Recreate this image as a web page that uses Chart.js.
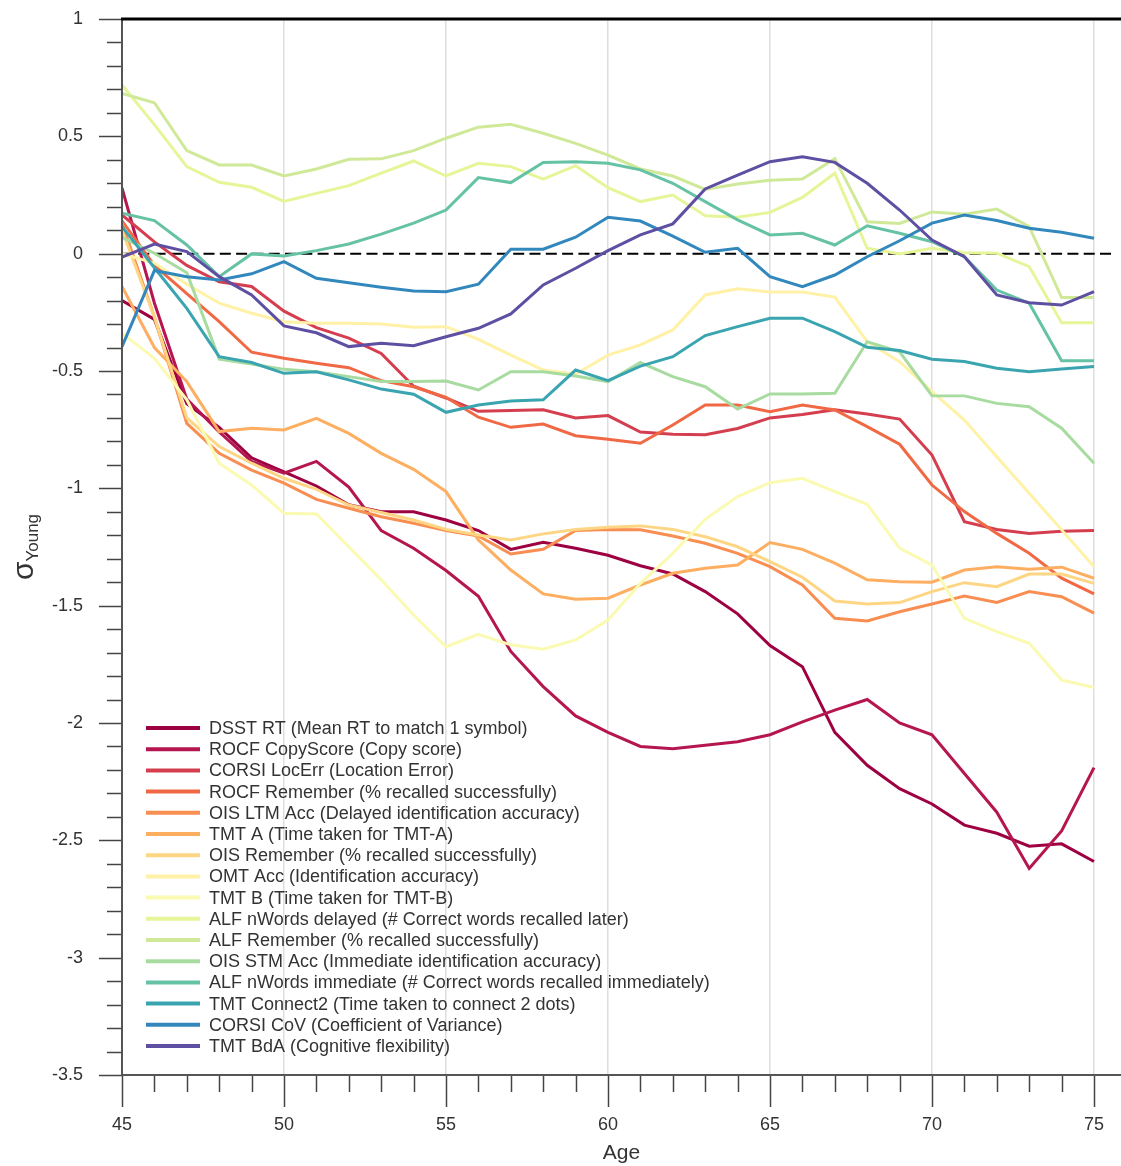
<!DOCTYPE html>
<html lang="en">
<head>
    <meta charset="UTF-8">
    <title>Cognitive scores vs age</title>
    <script src="https://cdn.jsdelivr.net/npm/chart.js"></script>
    <style>
        body { margin: 0; background: #fff; }
        .wrap { width: 1121px; height: 1166px; }
    </style>
</head>
<body>
    <div class="wrap"><canvas id="ageChart" width="1121" height="1166"></canvas></div>

    <script>
        // ages on the x axis
        const ages = [45, 46, 47, 48, 49, 50, 51, 52, 53, 54, 55, 56, 57, 58, 59, 60,
                      61, 62, 63, 64, 65, 66, 67, 68, 69, 70, 71, 72, 73, 74, 75];

        const names = [
            'DSST RT (Mean RT to match 1 symbol)',
            'ROCF CopyScore (Copy score)',
            'CORSI LocErr (Location Error)',
            'ROCF Remember (% recalled successfully)',
            'OIS LTM Acc (Delayed identification accuracy)',
            'TMT A (Time taken for TMT-A)',
            'OIS Remember (% recalled successfully)',
            'OMT Acc (Identification accuracy)',
            'TMT B (Time taken for TMT-B)',
            'ALF nWords delayed (# Correct words recalled later)',
            'ALF Remember (% recalled successfully)',
            'OIS STM Acc (Immediate identification accuracy)',
            'ALF nWords immediate (# Correct words recalled immediately)',
            'TMT Connect2 (Time taken to connect 2 dots)',
            'CORSI CoV (Coefficient of Variance)',
            'TMT BdA (Cognitive flexibility)'
        ];

        const colors = ['#9e0142', '#b5164f', '#d53e4f', '#f06944', '#f98e52', '#fdae61',
                        '#fed683', '#fff1a6', '#fafab3', '#e6f598', '#cfe998', '#a8dba0',
                        '#66c2a5', '#3aa5b0', '#3288bd', '#5e4fa2'];

        // sigma (young) per age, one array per test
        const dsstRT = [-0.20, -0.28, -0.64, -0.74, -0.87, -0.93, -0.99, -1.07, -1.10, -1.10, -1.135,
                        -1.18, -1.26, -1.23, -1.255, -1.285, -1.33, -1.365, -1.44, -1.535, -1.67,
                        -1.76, -2.04, -2.18, -2.28, -2.345, -2.435, -2.47, -2.525, -2.515, -2.59];
        const rocfCopy = [0.28, -0.21, -0.62, -0.76, -0.885, -0.935, -0.885, -0.995, -1.18, -1.255, -1.35,
                          -1.46, -1.695, -1.845, -1.97, -2.04, -2.10, -2.11, -2.095, -2.08, -2.05,
                          -1.995, -1.945, -1.90, -2.00, -2.05, -2.215, -2.38, -2.62, -2.46, -2.19];
        const corsiLocErr = [0.165, 0.05, -0.05, -0.12, -0.14, -0.245, -0.315, -0.36, -0.425, -0.565, -0.615,
                             -0.672, -0.668, -0.665, -0.70, -0.69, -0.76, -0.77, -0.772, -0.745, -0.70,
                             -0.685, -0.665, -0.683, -0.705, -0.858, -1.142, -1.175, -1.192, -1.183, -1.18];
        const rocfRemember = [0.14, -0.05, -0.17, -0.29, -0.42, -0.446, -0.467, -0.486, -0.541, -0.567, -0.612,
                              -0.697, -0.74, -0.726, -0.776, -0.791, -0.808, -0.73, -0.645, -0.645, -0.673,
                              -0.645, -0.666, -0.737, -0.812, -0.986, -1.099, -1.192, -1.277, -1.383, -1.45];
        const oisLtmAcc = [0.13, -0.27, -0.723, -0.851, -0.922, -0.978, -1.047, -1.085, -1.121, -1.149, -1.18,
                           -1.203, -1.28, -1.26, -1.18, -1.175, -1.177, -1.203, -1.234, -1.277, -1.334,
                           -1.412, -1.554, -1.565, -1.526, -1.493, -1.459, -1.486, -1.44, -1.462, -1.532];
        const tmtA = [-0.14, -0.40, -0.545, -0.758, -0.744, -0.751, -0.702, -0.766, -0.851, -0.919, -1.014,
                      -1.22, -1.348, -1.45, -1.473, -1.468, -1.412, -1.362, -1.341, -1.327, -1.231,
                      -1.26, -1.319, -1.39, -1.398, -1.40, -1.348, -1.334, -1.345, -1.336, -1.383];
        const oisRemember = [0.10, -0.27, -0.70, -0.822, -0.893, -0.957, -1.004, -1.071, -1.103, -1.135, -1.175,
                             -1.199, -1.22, -1.194, -1.175, -1.166, -1.16, -1.175, -1.206, -1.249, -1.312,
                             -1.379, -1.48, -1.493, -1.487, -1.44, -1.402, -1.419, -1.365, -1.365, -1.405];
        const omtAcc = [0.0, -0.04, -0.13, -0.211, -0.254, -0.29, -0.297, -0.297, -0.30, -0.314, -0.311,
                        -0.365, -0.432, -0.496, -0.514, -0.432, -0.389, -0.325, -0.176, -0.15, -0.163,
                        -0.163, -0.185, -0.375, -0.46, -0.588, -0.709, -0.865, -1.021, -1.177, -1.334];
        const tmtB = [-0.339, -0.446, -0.623, -0.893, -0.986, -1.106, -1.109, -1.249, -1.39, -1.54, -1.675,
                      -1.622, -1.667, -1.686, -1.646, -1.561, -1.405, -1.277, -1.132, -1.035, -0.976,
                      -0.957, -1.014, -1.068, -1.255, -1.327, -1.554, -1.611, -1.66, -1.817, -1.849];
        const alfDelayed = [0.719, 0.55, 0.371, 0.304, 0.283, 0.223, 0.257, 0.29, 0.343, 0.395, 0.331,
                            0.385, 0.371, 0.318, 0.375, 0.281, 0.222, 0.25, 0.162, 0.155, 0.176,
                            0.24, 0.343, 0.023, -0.001, 0.023, 0.004, 0.002, -0.055, -0.294, -0.294];
        const alfRemember = [0.683, 0.643, 0.439, 0.378, 0.378, 0.331, 0.361, 0.402, 0.404, 0.439, 0.492,
                             0.539, 0.551, 0.513, 0.47, 0.42, 0.361, 0.331, 0.274, 0.297, 0.313,
                             0.318, 0.405, 0.136, 0.129, 0.178, 0.168, 0.19, 0.115, -0.187, -0.187];
        const oisStmAcc = [0.07, 0.002, -0.081, -0.449, -0.47, -0.493, -0.503, -0.524, -0.545, -0.545, -0.543,
                           -0.581, -0.503, -0.503, -0.521, -0.545, -0.464, -0.524, -0.567, -0.662, -0.598,
                           -0.598, -0.595, -0.375, -0.418, -0.605, -0.606, -0.638, -0.652, -0.744, -0.893];
        const alfImmediate = [0.172, 0.141, 0.037, -0.098, -0.001, -0.01, 0.013, 0.041, 0.083, 0.13, 0.186,
                              0.324, 0.303, 0.389, 0.392, 0.385, 0.357, 0.30, 0.222, 0.144, 0.08,
                              0.087, 0.037, 0.119, 0.087, 0.051, -0.013, -0.155, -0.211, -0.456, -0.456];
        const tmtConnect2 = [0.115, -0.06, -0.233, -0.439, -0.464, -0.51, -0.503, -0.538, -0.577, -0.599, -0.676,
                             -0.645, -0.628, -0.623, -0.496, -0.541, -0.479, -0.439, -0.349, -0.311, -0.275,
                             -0.275, -0.332, -0.399, -0.413, -0.45, -0.46, -0.488, -0.503, -0.491, -0.481];
        const corsiCoV = [-0.396, -0.072, -0.098, -0.112, -0.086, -0.034, -0.105, -0.124, -0.143, -0.159, -0.162,
                          -0.13, 0.019, 0.019, 0.07, 0.155, 0.139, 0.075, 0.006, 0.023, -0.098,
                          -0.141, -0.091, -0.013, 0.055, 0.13, 0.165, 0.141, 0.108, 0.091, 0.066];
        const tmtBdA = [-0.015, 0.041, 0.009, -0.098, -0.176, -0.308, -0.337, -0.396, -0.382, -0.392, -0.354,
                        -0.318, -0.257, -0.133, -0.062, 0.013, 0.08, 0.127, 0.276, 0.335, 0.392,
                        0.413, 0.389, 0.30, 0.186, 0.058, -0.013, -0.176, -0.209, -0.219, -0.162];

        const series = [dsstRT, rocfCopy, corsiLocErr, rocfRemember, oisLtmAcc, tmtA, oisRemember, omtAcc,
                        tmtB, alfDelayed, alfRemember, oisStmAcc, alfImmediate, tmtConnect2, corsiCoV, tmtBdA];

        const FONT = "'Liberation Sans', Arial, sans-serif";

        // scales keep a fixed box, no extra room for edge labels
        function fixBox(s) {
            if (s.isHorizontal()) s.height = 91; else s.width = 122;
            s.paddingTop = 0; s.paddingBottom = 0;
            s.paddingLeft = 0; s.paddingRight = 0;
        }

        // axes, ticks, dashed zero line, legend
        const framePlugin = {
            id: 'frame',
            beforeDatasetsDraw(chart) {
                const ctx = chart.ctx, ca = chart.chartArea;
                const y0 = chart.scales.y.getPixelForValue(0);
                ctx.save();
                ctx.strokeStyle = '#000';
                ctx.lineWidth = 2;
                ctx.setLineDash([11, 5.3]);
                ctx.beginPath();
                ctx.moveTo(ca.left, y0);
                ctx.lineTo(chart.scales.x.getPixelForValue(75.6), y0);
                ctx.stroke();
                ctx.restore();
            },
            afterDraw(chart) {
                const ctx = chart.ctx, ca = chart.chartArea;
                const xs = chart.scales.x, ys = chart.scales.y;
                ctx.save();
                ctx.strokeStyle = '#444';
                ctx.lineWidth = 1.5;
                ys.ticks.forEach(t => {
                    const r = Math.round(t.value * 10);
                    const py = Math.round(ys.getPixelForValue(t.value)) + 0.5;
                    const len = r % 5 === 0 ? 23 : 15;
                    ctx.beginPath();
                    ctx.moveTo(ca.left - len, py);
                    ctx.lineTo(ca.left, py);
                    ctx.stroke();
                });
                xs.ticks.forEach(t => {
                    if (!Number.isInteger(t.value)) return;
                    const px = Math.round(xs.getPixelForValue(t.value)) + 0.5;
                    const len = t.value % 5 === 0 ? 32 : 17;
                    ctx.beginPath();
                    ctx.moveTo(px, ca.bottom);
                    ctx.lineTo(px, ca.bottom + len);
                    ctx.stroke();
                });
                // axis lines
                ctx.strokeStyle = '#555';
                ctx.lineWidth = 2;
                ctx.beginPath();
                ctx.moveTo(ca.left, ca.top);
                ctx.lineTo(ca.left, ca.bottom);
                ctx.moveTo(ca.left, ca.bottom);
                ctx.lineTo(ca.right, ca.bottom);
                ctx.stroke();
                ctx.strokeStyle = '#000';
                ctx.lineWidth = 3;
                ctx.beginPath();
                ctx.moveTo(ca.left - 1, ca.top);
                ctx.lineTo(ca.right, ca.top);
                ctx.stroke();

                // axis titles
                ctx.fillStyle = '#333';
                ctx.textAlign = 'center';
                ctx.textBaseline = 'alphabetic';
                ctx.font = '21px ' + FONT;
                ctx.fillText('Age', (ca.left + ca.right) / 2, 1159);

                ctx.translate(33, (ca.top + ca.bottom) / 2);
                ctx.rotate(-Math.PI / 2);
                ctx.textAlign = 'left';
                ctx.font = '30px ' + FONT;
                const sw = ctx.measureText('σ').width;
                ctx.font = '17px ' + FONT;
                const yw = ctx.measureText('Young').width;
                const x0 = -(sw + yw) / 2;
                ctx.font = '30px ' + FONT;
                ctx.fillText('σ', x0, 0);
                ctx.font = '17px ' + FONT;
                ctx.fillText('Young', x0 + sw, 5);
                ctx.restore();

                // legend
                ctx.save();
                ctx.font = '18px ' + FONT;
                ctx.textBaseline = 'middle';
                ctx.textAlign = 'left';
                chart.data.datasets.forEach((ds, i) => {
                    const ly = 728 + i * 21.2;
                    ctx.strokeStyle = ds.borderColor;
                    ctx.lineWidth = 4;
                    ctx.beginPath();
                    ctx.moveTo(146, ly);
                    ctx.lineTo(200, ly);
                    ctx.stroke();
                    ctx.fillStyle = '#333';
                    ctx.fillText(ds.label, 209, ly + 1);
                });
                ctx.restore();
            }
        };

        const datasets = series.map((vals, i) => ({
            label: names[i],
            data: ages.map((a, j) => ({ x: a, y: vals[j] })),
            borderColor: colors[i],
            backgroundColor: colors[i],
            borderWidth: 3,
            pointRadius: 0,
            tension: 0,
            fill: false,
            order: series.length - i
        }));

        new Chart(document.getElementById('ageChart'), {
            type: 'line',
            data: { datasets: datasets },
            options: {
                responsive: false,
                animation: false,
                layout: { padding: { top: 19, left: 0, right: 0, bottom: 0 } },
                plugins: { legend: { display: false }, tooltip: { enabled: false } },
                scales: {
                    x: {
                        type: 'linear',
                        min: 45,
                        max: 75.833,
                        afterFit: fixBox,
                        border: { display: false },
                        grid: {
                            drawTicks: false,
                            lineWidth: 1.5,
                            color: c => (c.tick && Number.isInteger(c.tick.value) && c.tick.value % 5 === 0 && c.tick.value > 45) ? '#dedede' : 'rgba(0,0,0,0)'
                        },
                        ticks: {
                            stepSize: 1,
                            includeBounds: false,
                            autoSkip: false,
                            maxRotation: 0,
                            padding: 39,
                            color: '#333',
                            font: { size: 18, family: FONT },
                            callback: v => (Number.isInteger(v) && v % 5 === 0) ? String(v) : ''
                        }
                    },
                    y: {
                        min: -3.5,
                        max: 1,
                        afterFit: fixBox,
                        border: { display: false },
                        grid: { display: false, drawTicks: false },
                        ticks: {
                            stepSize: 0.1,
                            autoSkip: false,
                            padding: 39,
                            color: '#333',
                            font: { size: 18, family: FONT },
                            callback: v => {
                                const r = Math.round(v * 10);
                                return r % 5 === 0 ? String(r / 10) : '';
                            }
                        }
                    }
                }
            },
            plugins: [framePlugin]
        });
    </script>
</body>
</html>
